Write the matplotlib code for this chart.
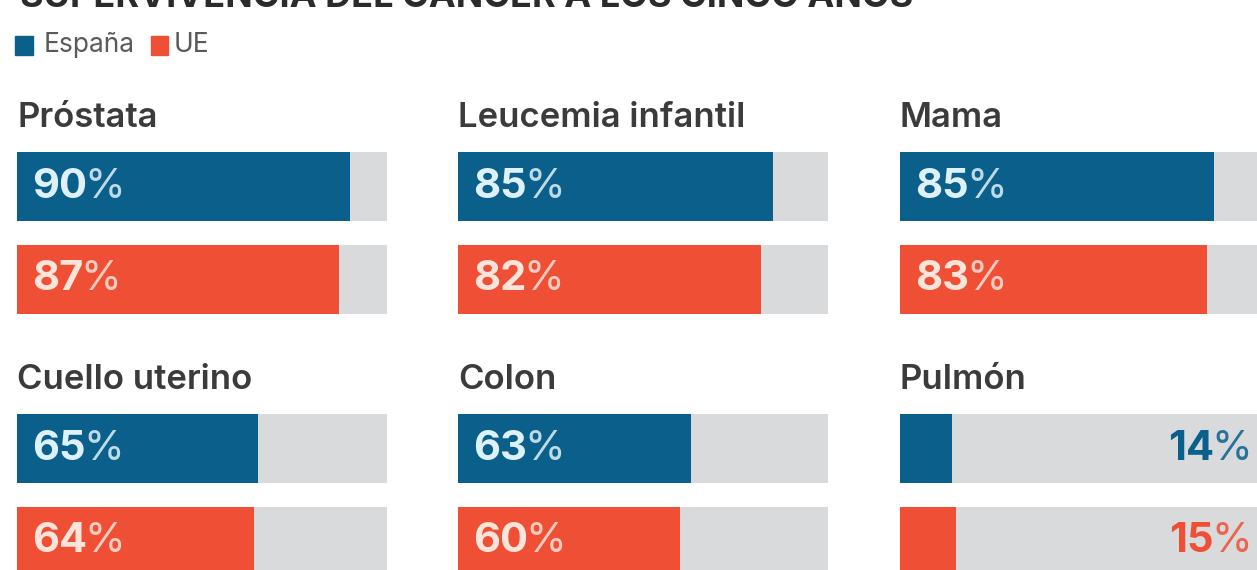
import matplotlib
matplotlib.use("Agg")
import matplotlib.pyplot as plt

plt.rcParams['font.family'] = ['Inter', 'DejaVu Sans']

# data
title = "SUPERVIVENCIA DEL CÁNCER A LOS CINCO AÑOS"
series = ["España", "UE"]
cancers = ["Próstata", "Leucemia infantil", "Mama",
           "Cuello uterino", "Colon", "Pulmón"]
espana = [90, 85, 85, 65, 63, 14]
ue = [87, 82, 83, 64, 60, 15]

BLUE = "#0a5f8b"
RED = "#ef4f35"
GRAY = "#d9dadc"
TXT = "#3b3b3b"

W, H = 1257, 570
fig = plt.figure(figsize=(W / 100, H / 100), dpi=100)
fig.patch.set_facecolor("white")

# layout in pixels
col_left = [17, 458, 900]
col_w = 370
row_top = [152, 414]
pitch = 93
bar_px = 69
h = bar_px / pitch
span_px = pitch + bar_px

# cut-off title at the very top
fig.text(20 / W, 1 - 7 / H, title, fontsize=26, fontweight="bold",
         color="#2b2b2b", va="baseline", ha="left")

# legend
fig.patches.append(plt.Rectangle((15 / W, 1 - 55 / H), 18 / W, 19 / H,
                                 transform=fig.transFigure, color=BLUE))
fig.text(44 / W, 1 - 45 / H, series[0], fontsize=19, color="#5a5a5a",
         va="center", ha="left")
fig.patches.append(plt.Rectangle((151 / W, 1 - 55 / H), 17 / W, 19 / H,
                                 transform=fig.transFigure, color=RED))
fig.text(174 / W, 1 - 45 / H, series[1], fontsize=19, color="#5a5a5a",
         va="center", ha="left")


def pct_label(ax, val, y, color, inside):
    if inside:
        t = ax.annotate(f"{val}", xy=(0, y), xytext=(11, 0),
                        textcoords="offset points", fontsize=30,
                        fontweight="bold", color=color, va="center", ha="left")
        ax.annotate("%", xy=(1, 0), xycoords=t, xytext=(-2, 0),
                    textcoords="offset points", fontsize=30,
                    color=color, alpha=0.85, va="bottom", ha="left")
    else:
        p = ax.annotate("%", xy=(100, y), xytext=(-13, 0),
                        textcoords="offset points", fontsize=30,
                        color=color, alpha=0.85, va="center", ha="right")
        ax.annotate(f"{val}", xy=(0, 0), xycoords=p, xytext=(2, 0),
                    textcoords="offset points", fontsize=30,
                    fontweight="bold", color=color, va="bottom", ha="right")


for i, name in enumerate(cancers):
    r, c = divmod(i, 3)
    left = col_left[c]
    top = row_top[r]
    ax = fig.add_axes([left / W, 1 - (top + span_px) / H, col_w / W, span_px / H])
    ax.set_xlim(0, 100)
    ax.set_ylim(1 + h / 2, -h / 2)
    ax.axis("off")

    ax.barh([0, 1], [100, 100], height=h, color=GRAY, zorder=1)
    ax.barh([0, 1], [espana[i], ue[i]], height=h,
            color=[BLUE, RED], zorder=2)

    inside = espana[i] > 30
    if inside:
        pct_label(ax, espana[i], 0, "#dff1f8", True)
        pct_label(ax, ue[i], 1, "#fde4da", True)
    else:
        pct_label(ax, espana[i], 0, BLUE, False)
        pct_label(ax, ue[i], 1, RED, False)

    fig.text(left / W, 1 - (top - 25) / H, name, fontsize=25,
             fontweight="semibold", color=TXT, va="baseline", ha="left")

fig.savefig("out.png", dpi=100, facecolor="white")
